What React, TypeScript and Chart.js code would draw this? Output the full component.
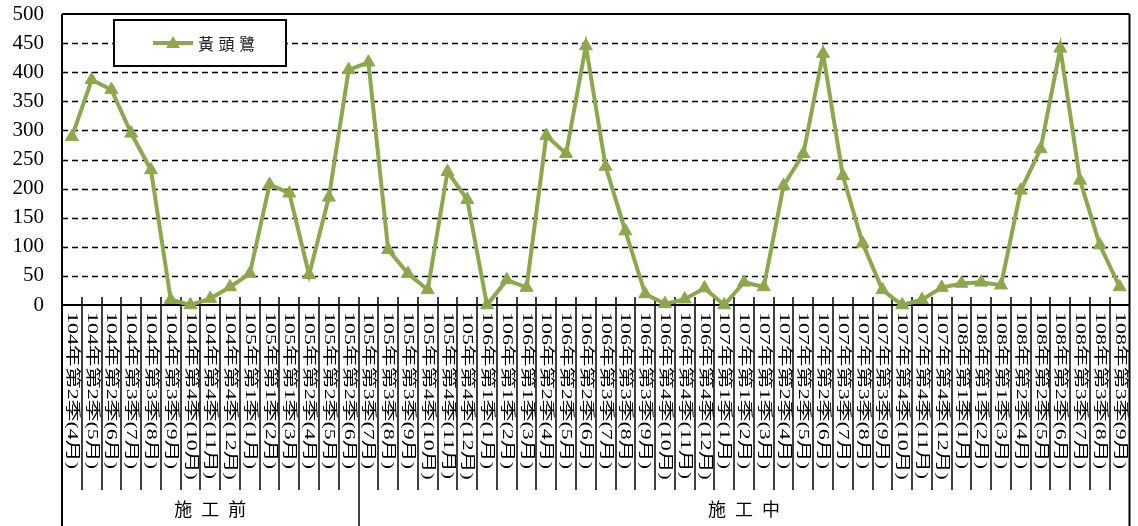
import React, { useEffect, useRef } from "react";
import { Chart, registerables } from "chart.js";

Chart.register(...registerables);

const categories = [
  "104年第2季(4月)", "104年第2季(5月)", "104年第2季(6月)",
  "104年第3季(7月)", "104年第3季(8月)", "104年第3季(9月)",
  "104年第4季(10月)", "104年第4季(11月)", "104年第4季(12月)",
  "105年第1季(1月)", "105年第1季(2月)", "105年第1季(3月)",
  "105年第2季(4月)", "105年第2季(5月)", "105年第2季(6月)",
  "105年第3季(7月)", "105年第3季(8月)", "105年第3季(9月)",
  "105年第4季(10月)", "105年第4季(11月)", "105年第4季(12月)",
  "106年第1季(1月)", "106年第1季(2月)", "106年第1季(3月)",
  "106年第2季(4月)", "106年第2季(5月)", "106年第2季(6月)",
  "106年第3季(7月)", "106年第3季(8月)", "106年第3季(9月)",
  "106年第4季(10月)", "106年第4季(11月)", "106年第4季(12月)",
  "107年第1季(1月)", "107年第1季(2月)", "107年第1季(3月)",
  "107年第2季(4月)", "107年第2季(5月)", "107年第2季(6月)",
  "107年第3季(7月)", "107年第3季(8月)", "107年第3季(9月)",
  "107年第4季(10月)", "107年第4季(11月)", "107年第4季(12月)",
  "108年第1季(1月)", "108年第1季(2月)", "108年第1季(3月)",
  "108年第2季(4月)", "108年第2季(5月)", "108年第2季(6月)",
  "108年第3季(7月)", "108年第3季(8月)", "108年第3季(9月)",
];

const seriesName = "黃頭鷺";
const cattleEgret = [
  289, 387, 370, 295, 232, 9, 0, 11, 31, 54, 207, 192, 52, 185, 404, 417,
  95, 54, 26, 229, 181, 0, 43, 30, 291, 260, 445, 238, 127, 19, 2, 10, 29, 0,
  39, 31, 205, 260, 432, 222, 106, 26, 0, 9, 30, 37, 39, 34, 197, 268, 441, 214, 103, 31,
];

const groupLabels = ["施工前", "施工中"];
const groupSizes = [15, 39];

const yMin = 0;
const yMax = 500;
const yStep = 50;

const LINE_COLOR = "#8DA84C";
const CJK = "'Noto Sans CJK TC'";

function triangle(ctx: CanvasRenderingContext2D, x: number, y: number, r: number) {
  ctx.beginPath();
  for (let k = 0; k < 3; k++) {
    const rad = (k * 2 * Math.PI) / 3;
    const px = x + Math.sin(rad) * r;
    const py = y - Math.cos(rad) * r;
    if (k === 0) ctx.moveTo(px, py);
    else ctx.lineTo(px, py);
  }
  ctx.closePath();
  ctx.fill();
}

const overlay = {
  id: "overlay",
  beforeDatasetsDraw(chart: any) {
    const { ctx, chartArea: a, scales } = chart;
    const y = scales.y;
    const H = chart.height;
    ctx.save();
    // dashed grid lines
    ctx.strokeStyle = "#000";
    ctx.lineWidth = 1.6;
    ctx.setLineDash([6, 4]);
    y.ticks.forEach((t: any) => {
      if (t.value <= yMin || t.value >= yMax) return;
      const py = Math.round(y.getPixelForValue(t.value)) + 0.5;
      ctx.beginPath();
      ctx.moveTo(a.left, py);
      ctx.lineTo(a.right, py);
      ctx.stroke();
    });
    ctx.setLineDash([]);
    ctx.lineWidth = 2;
    // frame
    ctx.beginPath();
    ctx.moveTo(a.left, a.top);
    ctx.lineTo(a.right, a.top);
    ctx.moveTo(a.left, a.top);
    ctx.lineTo(a.left, H);
    ctx.moveTo(a.right, a.top);
    ctx.lineTo(a.right, H);
    ctx.moveTo(a.left, a.bottom);
    ctx.lineTo(a.right, a.bottom);
    ctx.stroke();
    // category separators
    const n = categories.length;
    const w = (a.right - a.left) / n;
    const bounds: number[] = [];
    let acc = 0;
    groupSizes.forEach((s) => {
      acc += s;
      bounds.push(acc);
    });
    ctx.lineWidth = 1.5;
    for (let i = 1; i < n; i++) {
      const px = Math.round(a.left + i * w);
      const isGroup = bounds.includes(i);
      ctx.beginPath();
      ctx.moveTo(px, a.bottom - 8);
      ctx.lineTo(px, isGroup ? H : 490);
      ctx.stroke();
    }
    ctx.restore();
  },
  afterDatasetsDraw(chart: any) {
    const { ctx, chartArea: a, scales } = chart;
    const x = scales.x;
    const H = chart.height;
    ctx.save();
    // category labels, vertical, rotated clockwise
    ctx.fillStyle = "#000";
    ctx.font = `15px 'Liberation Serif', ${CJK}`;
    ctx.textBaseline = "middle";
    ctx.textAlign = "left";
    categories.forEach((lab, i) => {
      const px = x.getPixelForValue(i);
      ctx.save();
      ctx.translate(px, a.bottom + 7);
      ctx.rotate(Math.PI / 2);
      ctx.scale(1.46, 1);
      ctx.fillText(lab, 0, 0);
      ctx.restore();
    });
    // group labels
    const n = categories.length;
    const w = (a.right - a.left) / n;
    let start = 0;
    ctx.font = `18px ${CJK}`;
    ctx.textAlign = "center";
    groupLabels.forEach((g, gi) => {
      const x0 = a.left + start * w;
      const x1 = a.left + (start + groupSizes[gi]) * w;
      const cx = (x0 + x1) / 2;
      const chars = Array.from(g);
      const sp = 27;
      chars.forEach((c, k) => {
        ctx.fillText(c, cx + (k - (chars.length - 1) / 2) * sp, (490 + H) / 2 + 1);
      });
      start += groupSizes[gi];
    });
    // legend
    ctx.fillStyle = "#fff";
    ctx.fillRect(114, 20, 172, 46);
    ctx.strokeStyle = "#000";
    ctx.lineWidth = 2;
    ctx.strokeRect(114, 20, 172, 46);
    ctx.strokeStyle = LINE_COLOR;
    ctx.lineWidth = 4;
    ctx.beginPath();
    ctx.moveTo(153, 43);
    ctx.lineTo(193, 43);
    ctx.stroke();
    ctx.fillStyle = LINE_COLOR;
    triangle(ctx, 173, 44, 8);
    ctx.fillStyle = "#222";
    ctx.font = `16px ${CJK}`;
    ctx.textAlign = "left";
    Array.from(seriesName).forEach((c, k) => {
      ctx.fillText(c, 198 + k * 20.5, 44);
    });
    ctx.restore();
  },
};

export default function App() {
  const ref = useRef<HTMLCanvasElement | null>(null);
  useEffect(() => {
    if (!ref.current) return;
    const chart = new Chart(ref.current, {
      type: "line",
      data: {
        labels: categories,
        datasets: [
          {
            label: seriesName,
            data: cattleEgret,
            borderColor: LINE_COLOR,
            backgroundColor: LINE_COLOR,
            borderWidth: 4,
            pointStyle: "triangle",
            pointRadius: 7.5,
            pointBorderWidth: 1,
            pointBackgroundColor: LINE_COLOR,
            pointBorderColor: LINE_COLOR,
            tension: 0,
            clip: false as any,
          },
        ],
      },
      options: {
        responsive: false,
        animation: false,
        layout: { padding: { top: 14, right: 7, left: 0, bottom: 0 } },
        plugins: { legend: { display: false }, tooltip: { enabled: false } },
        scales: {
          x: {
            type: "category",
            offset: true,
            grid: { display: false },
            border: { display: false },
            ticks: { display: false },
            afterFit: (s: any) => {
              s.height = 221;
              s.paddingLeft = 0;
              s.paddingRight = 0;
              s.paddingTop = 0;
              s.paddingBottom = 0;
            },
          },
          y: {
            min: yMin,
            max: yMax,
            grid: { display: false },
            border: { display: false },
            ticks: {
              stepSize: yStep,
              color: "#000",
              padding: 10,
              font: { family: "'Liberation Serif'", size: 21 },
            },
            afterFit: (s: any) => {
              s.width = 62;
              s.paddingTop = 0;
              s.paddingBottom = 0;
              s.paddingLeft = 0;
              s.paddingRight = 0;
            },
          },
        },
      },
      plugins: [overlay],
    });
    return () => chart.destroy();
  }, []);
  return (
    <div style={{ position: "absolute", left: 0, top: 0, width: 1138, height: 526 }}>
      <canvas ref={ref} width={1138} height={526} style={{ display: "block" }} />
    </div>
  );
}
